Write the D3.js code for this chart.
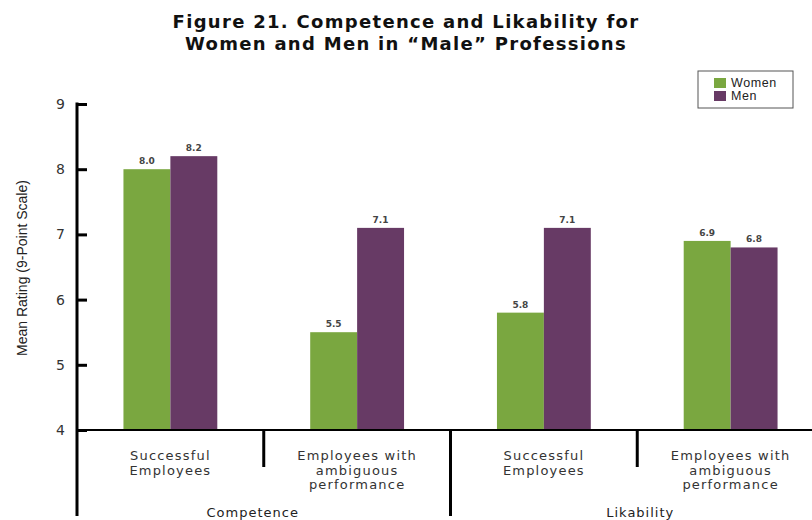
<!DOCTYPE html>
<html>
<head>
<meta charset="utf-8">
<script src="https://cdn.jsdelivr.net/npm/d3@7"></script>
<style>
  body { margin: 0; background: #fff; }
  svg { display: block; }
  text { font-family: "DejaVu Sans", Verdana, sans-serif; }
</style>
</head>
<body>
<svg id="chart" width="812" height="520"></svg>
<script>
// Ratings by outcome type, grouped under the two measures
const categories = ["Successful Employees", "Employees with ambiguous performance",
                    "Successful Employees", "Employees with ambiguous performance"];
const categoryLines = [["Successful", "Employees"], ["Employees with", "ambiguous", "performance"],
                       ["Successful", "Employees"], ["Employees with", "ambiguous", "performance"]];
const groups = ["Competence", "Likability"];
const groupOf = [0, 0, 1, 1];
const series = ["Women", "Men"];
const womenValues = [8.0, 5.5, 5.8, 6.9];
const menValues = [8.2, 7.1, 7.1, 6.8];
const yTicks = [4, 5, 6, 7, 8, 9];
const colors = { Women: "#7aa740", Men: "#673a65" };

const svg = d3.select("#chart");
const baseY = 430, topY = 104, axisX = 77;

const x = d3.scaleBand().domain(d3.range(categories.length)).range([axisX, 824]).padding(0);
const xs = d3.scaleBand().domain(series).range([0, x.bandwidth()]).paddingInner(0).paddingOuter(0.99);
const y = d3.scaleLinear().domain([4, 9]).range([baseY, topY]);

// Title
svg.append("text")
  .attr("x", 406).attr("y", 28)
  .attr("text-anchor", "middle")
  .style("font-weight", "bold").style("font-size", "18px").style("letter-spacing", "1.3px")
  .attr("fill", "#111")
  .selectAll("tspan")
  .data(["Figure 21. Competence and Likability for", "Women and Men in \u201cMale\u201d Professions"])
  .join("tspan")
  .attr("x", 406).attr("dy", (d, i) => i ? 22 : 0)
  .text(d => d);

// Bars
const rows = categories.map((c, i) => ({ i, Women: womenValues[i], Men: menValues[i] }));
const gBars = svg.append("g");
rows.forEach(r => {
  series.forEach(s => {
    gBars.append("rect")
      .attr("x", x(r.i) + xs(s))
      .attr("y", y(r[s]))
      .attr("width", xs.bandwidth())
      .attr("height", baseY - y(r[s]))
      .attr("fill", colors[s]);
    gBars.append("text")
      .attr("x", x(r.i) + xs(s) + xs.bandwidth() / 2)
      .attr("y", y(r[s]) - 5)
      .attr("text-anchor", "middle")
      .style("font-size", "9px").style("font-weight", "bold")
      .attr("fill", "#444")
      .text(d3.format(".1f")(r[s]));
  });
});

// Y axis: ticks point into the plot
const yAxis = d3.axisLeft(y).tickValues(yTicks).tickSize(-10).tickPadding(12).tickFormat(d3.format("d"));
const gy = svg.append("g").attr("transform", `translate(${axisX},0)`).call(yAxis);
gy.select(".domain").remove();
gy.selectAll(".tick line").attr("stroke", "#000").attr("stroke-width", 3);
gy.selectAll(".tick text").attr("fill", "#333").style("font-size", "14px")
  .style("font-family", "\"DejaVu Sans\", Verdana, sans-serif");

svg.append("line")
  .attr("x1", axisX).attr("x2", axisX)
  .attr("y1", topY - 1.5).attr("y2", 516)
  .attr("stroke", "#000").attr("stroke-width", 3);

// Baseline
svg.append("line")
  .attr("x1", axisX).attr("x2", 824)
  .attr("y1", baseY).attr("y2", baseY)
  .attr("stroke", "#000").attr("stroke-width", 2);

// Separators between categories (short) and between groups (long)
d3.range(1, categories.length).forEach(i => {
  const sx = x(i);
  const long = groupOf[i] !== groupOf[i - 1];
  svg.append("line")
    .attr("x1", sx).attr("x2", sx)
    .attr("y1", baseY).attr("y2", long ? 516 : 467)
    .attr("stroke", "#000").attr("stroke-width", 3);
});

// Category labels
categoryLines.forEach((lines, i) => {
  svg.append("text")
    .attr("text-anchor", "middle")
    .attr("fill", "#333")
    .style("font-size", "13px").style("letter-spacing", "1.2px")
    .selectAll("tspan").data(lines).join("tspan")
    .attr("x", x(i) + x.bandwidth() / 2)
    .attr("y", (d, k) => 460 + k * 14.5)
    .text(d => d);
});

// Group labels
groups.forEach((g, gi) => {
  const idx = d3.range(categories.length).filter(i => groupOf[i] === gi);
  const cx = (x(idx[0]) + x(idx[idx.length - 1]) + x.bandwidth()) / 2;
  svg.append("text")
    .attr("x", cx - (gi === 0 ? 11 : -3)).attr("y", 517)
    .attr("text-anchor", "middle")
    .attr("fill", "#222")
    .style("font-size", "13px").style("letter-spacing", "1px")
    .text(g);
});

// Y axis title
svg.append("text")
  .attr("transform", "translate(27,268) rotate(-90)")
  .attr("text-anchor", "middle")
  .attr("fill", "#222")
  .style("font-family", "\"Liberation Sans\", Arial, sans-serif")
  .style("font-size", "14px")
  .text("Mean Rating (9-Point Scale)");

// Legend
const lg = svg.append("g").attr("transform", "translate(698,71)");
lg.append("rect").attr("x", 0).attr("y", 0).attr("width", 95).attr("height", 37)
  .attr("fill", "#fff").attr("stroke", "#555").attr("stroke-width", 1);
series.forEach((s, i) => {
  lg.append("rect").attr("x", 16).attr("y", 7 + i * 13).attr("width", 12).attr("height", 10)
    .attr("fill", colors[s]);
  lg.append("text").attr("x", 33).attr("y", 16 + i * 13)
    .attr("fill", "#222")
    .style("font-family", "\"Liberation Sans\", Arial, sans-serif")
    .style("font-size", "12.5px").style("letter-spacing", "0.6px")
    .text(s);
});
</script>
</body>
</html>
